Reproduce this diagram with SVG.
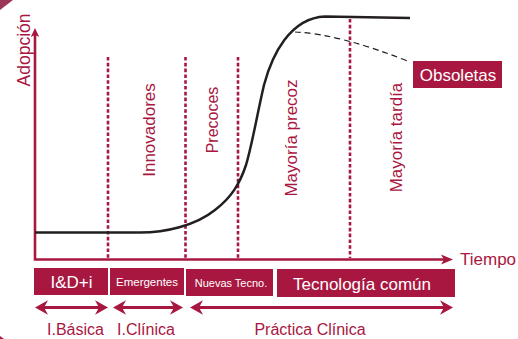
<svg xmlns="http://www.w3.org/2000/svg" width="518" height="339" viewBox="0 0 518 339">
<style>
.red{fill:#a8173f}
.lbl{font-family:"Liberation Sans",Arial,sans-serif;fill:#a8173f}
.wt{font-family:"Liberation Sans",Arial,sans-serif;fill:#ffffff;text-anchor:middle}
.dot{stroke:#a8173f;stroke-width:2.6;stroke-dasharray:3.6 2.2;fill:none}
.arr{stroke:#a8173f;stroke-width:3;fill:none}
.mk{fill:#a8173f}
</style>
<defs>
<marker id="ah" markerUnits="userSpaceOnUse" markerWidth="30" markerHeight="30" refX="0" refY="0" orient="auto-start-reverse" style="overflow:visible"><path class="mk" d="M9,0 L-4,-7.3 L0,0 L-4,7.3 Z"/></marker>
<marker id="ax" markerUnits="userSpaceOnUse" markerWidth="30" markerHeight="30" refX="0" refY="0" orient="auto-start-reverse" style="overflow:visible"><path class="mk" d="M8,0 L-4,-5 L-1,0 L-4,5 Z"/></marker>
<marker id="ay" markerUnits="userSpaceOnUse" markerWidth="30" markerHeight="30" refX="0" refY="0" orient="auto-start-reverse" style="overflow:visible"><path class="mk" d="M6,0 L-3,-4.2 L-1,0 L-3,4.2 Z"/></marker>
</defs>
<polygon points="0,0 13,0 0,10" fill="#9c3555"/>
<polygon points="0,336 4,339 0,339" fill="#a8173f"/>

<g id="axes">
<path d="M35,34 L35,259.5 L445,259.5" stroke="#a8173f" stroke-width="2.6" fill="none" marker-start="url(#ay)" marker-end="url(#ax)"/>
<text class="lbl" font-size="17.5" text-anchor="middle" transform="translate(29.5,50) rotate(-90)">Adopción</text>
<text class="lbl" font-size="17" x="460" y="265">Tiempo</text>
</g>

<g id="dividers">
<line class="dot" x1="108" y1="57" x2="108" y2="258"/>
<line class="dot" x1="185.5" y1="57" x2="185.5" y2="258"/>
<line class="dot" x1="238" y1="57" x2="238" y2="258"/>
<line class="dot" x1="350" y1="19" x2="350" y2="258"/>
</g>

<g id="phases">
<text class="lbl" font-size="17" text-anchor="middle" transform="translate(154.5,130) rotate(-90)">Innovadores</text>
<text class="lbl" font-size="16" text-anchor="middle" transform="translate(218,120) rotate(-90)">Precoces</text>
<text class="lbl" font-size="17" text-anchor="middle" transform="translate(296.5,138) rotate(-90)">Mayoría precoz</text>
<text class="lbl" font-size="17" text-anchor="middle" transform="translate(401.5,137.5) rotate(-90)">Mayoría tardía</text>
</g>

<g id="connectors">
<path id="curve" d="M35,232.5 L140,232.5 C165,232.5 195,226 215,210 C232,197 240,183 246,165 C252,145 257,115 264,85 C272,55 290,18 325,16.5 L410,18" stroke="#231f20" stroke-width="2.5" fill="none"/>
<path id="obsolete-line" d="M295,32 Q340,34 410,62" stroke="#231f20" stroke-width="1.2" stroke-dasharray="6 4" fill="none"/>
<line class="arr" x1="44" y1="307.5" x2="99" y2="307.5" marker-start="url(#ah)" marker-end="url(#ah)"/>
<line class="arr" x1="122" y1="307.5" x2="174" y2="307.5" marker-start="url(#ah)" marker-end="url(#ah)"/>
<line class="arr" x1="199" y1="307.5" x2="444" y2="307.5" marker-start="url(#ah)" marker-end="url(#ah)"/>
</g>

<g id="obsoletas">
<rect class="red" x="413" y="61" width="89" height="27"/>
<text class="wt" font-size="17" x="458" y="81">Obsoletas</text>
</g>

<g id="idi">
<rect class="red" x="34" y="268" width="74" height="27"/>
<text class="wt" font-size="17" x="71.5" y="288">I&amp;D+i</text>
</g>
<g id="emergentes">
<rect class="red" x="110" y="268" width="74" height="27"/>
<text class="wt" font-size="11.5" x="147" y="285.5">Emergentes</text>
</g>
<g id="nuevas">
<rect class="red" x="186" y="269" width="87" height="27"/>
<text class="wt" font-size="11" x="231" y="287">Nuevas Tecno.</text>
</g>
<g id="comun">
<rect class="red" x="277" y="269" width="178" height="28"/>
<text class="wt" font-size="17" x="362" y="290">Tecnología común</text>
</g>

<g id="stages">
<text class="lbl" font-size="16" text-anchor="middle" x="75.5" y="335">I.Básica</text>
<text class="lbl" font-size="16" text-anchor="middle" x="146" y="335">I.Clínica</text>
<text class="lbl" font-size="16" text-anchor="middle" x="310" y="335">Práctica Clínica</text>
</g>
</svg>
